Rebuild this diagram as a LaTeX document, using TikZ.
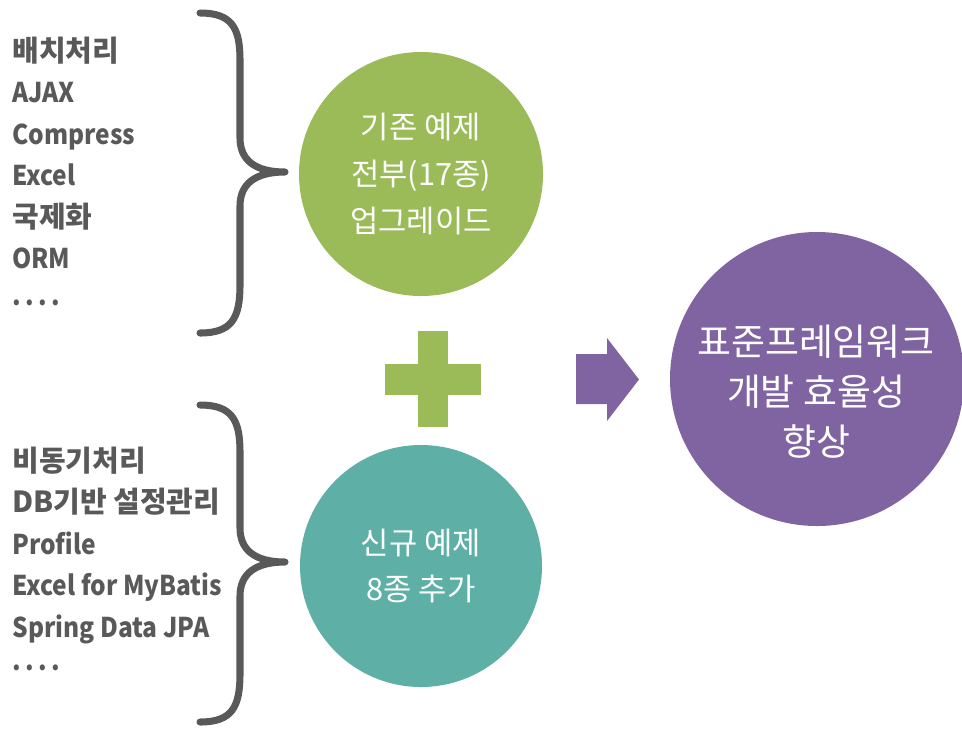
\documentclass[tikz,border=0pt]{standalone}
\usepackage{fontspec}
\setmainfont{Noto Sans CJK KR}
\newfontfamily\narrowfont{Noto Sans CJK KR}[FakeStretch=0.9]
\definecolor{listgray}{HTML}{595959}
\definecolor{oldgreen}{HTML}{9BBB59}
\definecolor{newteal}{HTML}{5EB0A6}
\definecolor{goalpurple}{HTML}{8064A2}
\tikzset{
  item/.style={anchor=base west, inner sep=0pt, text=listgray,
    font=\narrowfont\bfseries\fontsize{15.5}{18}\selectfont},
  hitem/.style={item, font=\bfseries\fontsize{16.5}{18}\selectfont},
  bracket/.style={draw=listgray, line width=4pt, line cap=round, line join=round},
  ball/.style={circle, inner sep=0pt, text=white, align=center}
}
\begin{document}
\begin{tikzpicture}[x=0.02cm, y=-0.02cm]
	\useasboundingbox (0,0) rectangle (962,728);
	% old examples
	\node[hitem] (old1) at (12, 61) {배치처리};
	\node[item] (old2) at (12, 102.5) {AJAX};
	\node[item] (old3) at (12, 144) {Compress};
	\node[item] (old4) at (12, 185.5) {Excel};
	\node[hitem] (old5) at (12, 227) {국제화};
	\node[item] (old6) at (12, 268.5) {ORM};
	\node[item] (olddots) at (12, 305) {.\,.\,.\,.};
	\draw[bracket] (200,13) .. controls (232,13) and (240,28) .. (240,60) -- (240,138)
		.. controls (240,160) and (255,172) .. (285,172)
		.. controls (255,172) and (240,184) .. (240,206) -- (240,285)
		.. controls (240,318) and (232,333) .. (200,333);
	% new examples
	\node[hitem] (new1) at (12, 471) {비동기처리};
	\node[hitem] (new2) at (12, 512.5) {DB기반 설정관리};
	\foreach \txt [count=\i from 3] in {Profile, Excel for MyBatis, Spring Data JPA}
		\node[item] (new\i) at (12, 471+41.5*\i-41.5) {\txt};
	\node[item] (newdots) at (12, 670) {.\,.\,.\,.};
	\draw[bracket] (200,405) .. controls (232,405) and (240,420) .. (240,452) -- (240,528)
		.. controls (240,550) and (255,562) .. (285,562)
		.. controls (255,562) and (240,574) .. (240,596) -- (240,674)
		.. controls (240,707) and (232,722) .. (200,722);
	% circles
	\node[ball, fill=oldgreen, minimum size=244*0.02cm, font=\fontsize{17.5}{26.5}\selectfont]
		(old) at (421,174) {기존 예제\\전부(17종)\\업그레이드};
	\node[ball, fill=newteal, minimum size=242*0.02cm, font=\fontsize{17.5}{26.5}\selectfont]
		(new) at (421,566) {신규 예제\\8종 추가};
	\node[ball, fill=goalpurple, minimum size=294*0.02cm] (goal) at (817,379) {};
	\node[ball, font=\fontsize{21}{28.5}\selectfont]
		(goaltext) at (816,392) {표준프레임워크\\개발 효율성\\향상};
	% plus and arrow
	\fill[oldgreen] (418,331) rectangle (448,427);
	\fill[oldgreen] (385,364) rectangle (481,395);
	\fill[goalpurple] (576,354) -- (607,354) -- (607,338) -- (639,379.5)
		-- (607,421) -- (607,404) -- (576,404) -- cycle;
\end{tikzpicture}
\end{document}
